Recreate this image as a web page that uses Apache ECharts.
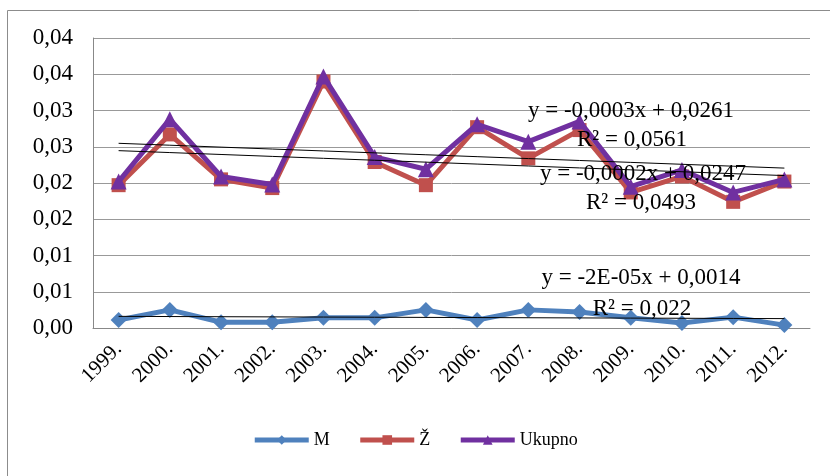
<!DOCTYPE html>
<html>
<head>
<meta charset="utf-8">
<script src="https://cdn.jsdelivr.net/npm/echarts@6/dist/echarts.min.js"></script>
<style>
  html, body { margin: 0; padding: 0; background: #fff; }
  #chart { width: 830px; height: 476px; }
</style>
</head>
<body>
<div id="chart"></div>
<script>
// podaci
const years = ['1999.', '2000.', '2001.', '2002.', '2003.', '2004.', '2005.',
  '2006.', '2007.', '2008.', '2009.', '2010.', '2011.', '2012.']
const valM = [0.0011, 0.0025, 0.0008, 0.0008, 0.0014, 0.0014, 0.0025,
  0.0011, 0.0025, 0.0022, 0.0014, 0.0007, 0.0015, 0.0004]
const valZ = [0.0197, 0.0267, 0.0205, 0.0193, 0.0340, 0.0229, 0.0197,
  0.0277, 0.0234, 0.0273, 0.0187, 0.0209, 0.0174, 0.0202]
const valUk = [0.0202, 0.0288, 0.0209, 0.0198, 0.0347, 0.0236, 0.0219,
  0.0281, 0.0257, 0.0285, 0.0195, 0.0218, 0.0187, 0.0205]
const yLabels = ['0,00', '0,01', '0,01', '0,02', '0,02', '0,03', '0,03', '0,04', '0,04']
const trendText = [
  'y = -0,0003x + 0,0261', 'R² = 0,0561',
  'y = -0,0002x + 0,0247', 'R² = 0,0493',
  'y = -2E-05x + 0,0014', 'R² = 0,022'
]

// linearni trend (x = 1..n)
function trend(arr) {
  const n = arr.length
  let sx = 0, sy = 0, sxy = 0, sxx = 0
  for (let i = 0; i < n; i++) {
    const x = i + 1
    sx += x; sy += arr[i]; sxy += x * arr[i]; sxx += x * x
  }
  const b = (n * sxy - sx * sy) / (n * sxx - sx * sx)
  const a = (sy - b * sx) / n
  return arr.map((v, i) => a + b * (i + 1))
}

const serif = '"Liberation Serif", "DejaVu Serif", serif'
const chart = echarts.init(document.getElementById('chart'))

function trendSeries(arr) {
  return {
    type: 'line',
    data: trend(arr),
    symbol: 'none',
    silent: true,
    lineStyle: { color: '#000', width: 1 },
    z: 5
  }
}

const textPos = [[631, 111], [632, 140], [643, 174], [641, 203], [641, 278], [642, 309]]

const option = {
  animation: false,
  grid: { left: 93, right: 20, top: 38, bottom: 148 },
  legend: {
    data: ['M', 'Ž', 'Ukupno'],
    bottom: 22,
    left: 'center',
    itemWidth: 54,
    itemHeight: 12,
    itemGap: 28,
    lineStyle: { width: 5 },
    textStyle: { fontFamily: 'Liberation Serif', fontSize: 18, color: '#000' }
  },
  xAxis: {
    type: 'category',
    data: years,
    boundaryGap: true,
    axisLine: { lineStyle: { color: '#888', width: 1 } },
    axisTick: { show: false },
    axisLabel: {
      rotate: 45,
      interval: 0,
      margin: 18,
      fontFamily: serif,
      fontSize: 21,
      color: '#000'
    }
  },
  yAxis: {
    type: 'value',
    min: 0,
    max: 0.04,
    interval: 0.005,
    axisLine: { show: true, lineStyle: { color: '#888', width: 1 } },
    axisTick: { show: false },
    splitLine: { lineStyle: { color: '#999', width: 1 } },
    axisLabel: {
      margin: 20,
      fontFamily: serif,
      fontSize: 23,
      color: '#000',
      formatter: (v, i) => yLabels[i]
    }
  },
  series: [
    {
      name: 'M', type: 'line', data: valM,
      symbol: 'diamond', symbolSize: 16,
      lineStyle: { color: '#4F81BD', width: 5 },
      itemStyle: { color: '#4F81BD' }, z: 3
    },
    {
      name: 'Ž', type: 'line', data: valZ,
      symbol: 'rect', symbolSize: 14,
      lineStyle: { color: '#C0504D', width: 5 },
      itemStyle: { color: '#C0504D' }, z: 3
    },
    {
      name: 'Ukupno', type: 'line', data: valUk,
      symbol: 'triangle', symbolSize: 16,
      lineStyle: { color: '#7030A0', width: 5 },
      itemStyle: { color: '#7030A0' }, z: 4
    },
    trendSeries(valM),
    trendSeries(valZ),
    trendSeries(valUk)
  ],
  graphic: [
    {
      type: 'rect', silent: true,
      shape: { x: 7.5, y: 10.5, width: 840, height: 500 },
      style: { fill: 'none', stroke: '#8c8c8c', lineWidth: 1 }
    }
  ].concat(trendText.map((t, i) => ({
    type: 'text', silent: true, z: 10,
    x: textPos[i][0], y: textPos[i][1],
    style: {
      text: t, fill: '#000', font: '23px ' + serif,
      align: 'center', verticalAlign: 'middle'
    }
  })))
}

chart.setOption(option)
</script>
</body>
</html>
